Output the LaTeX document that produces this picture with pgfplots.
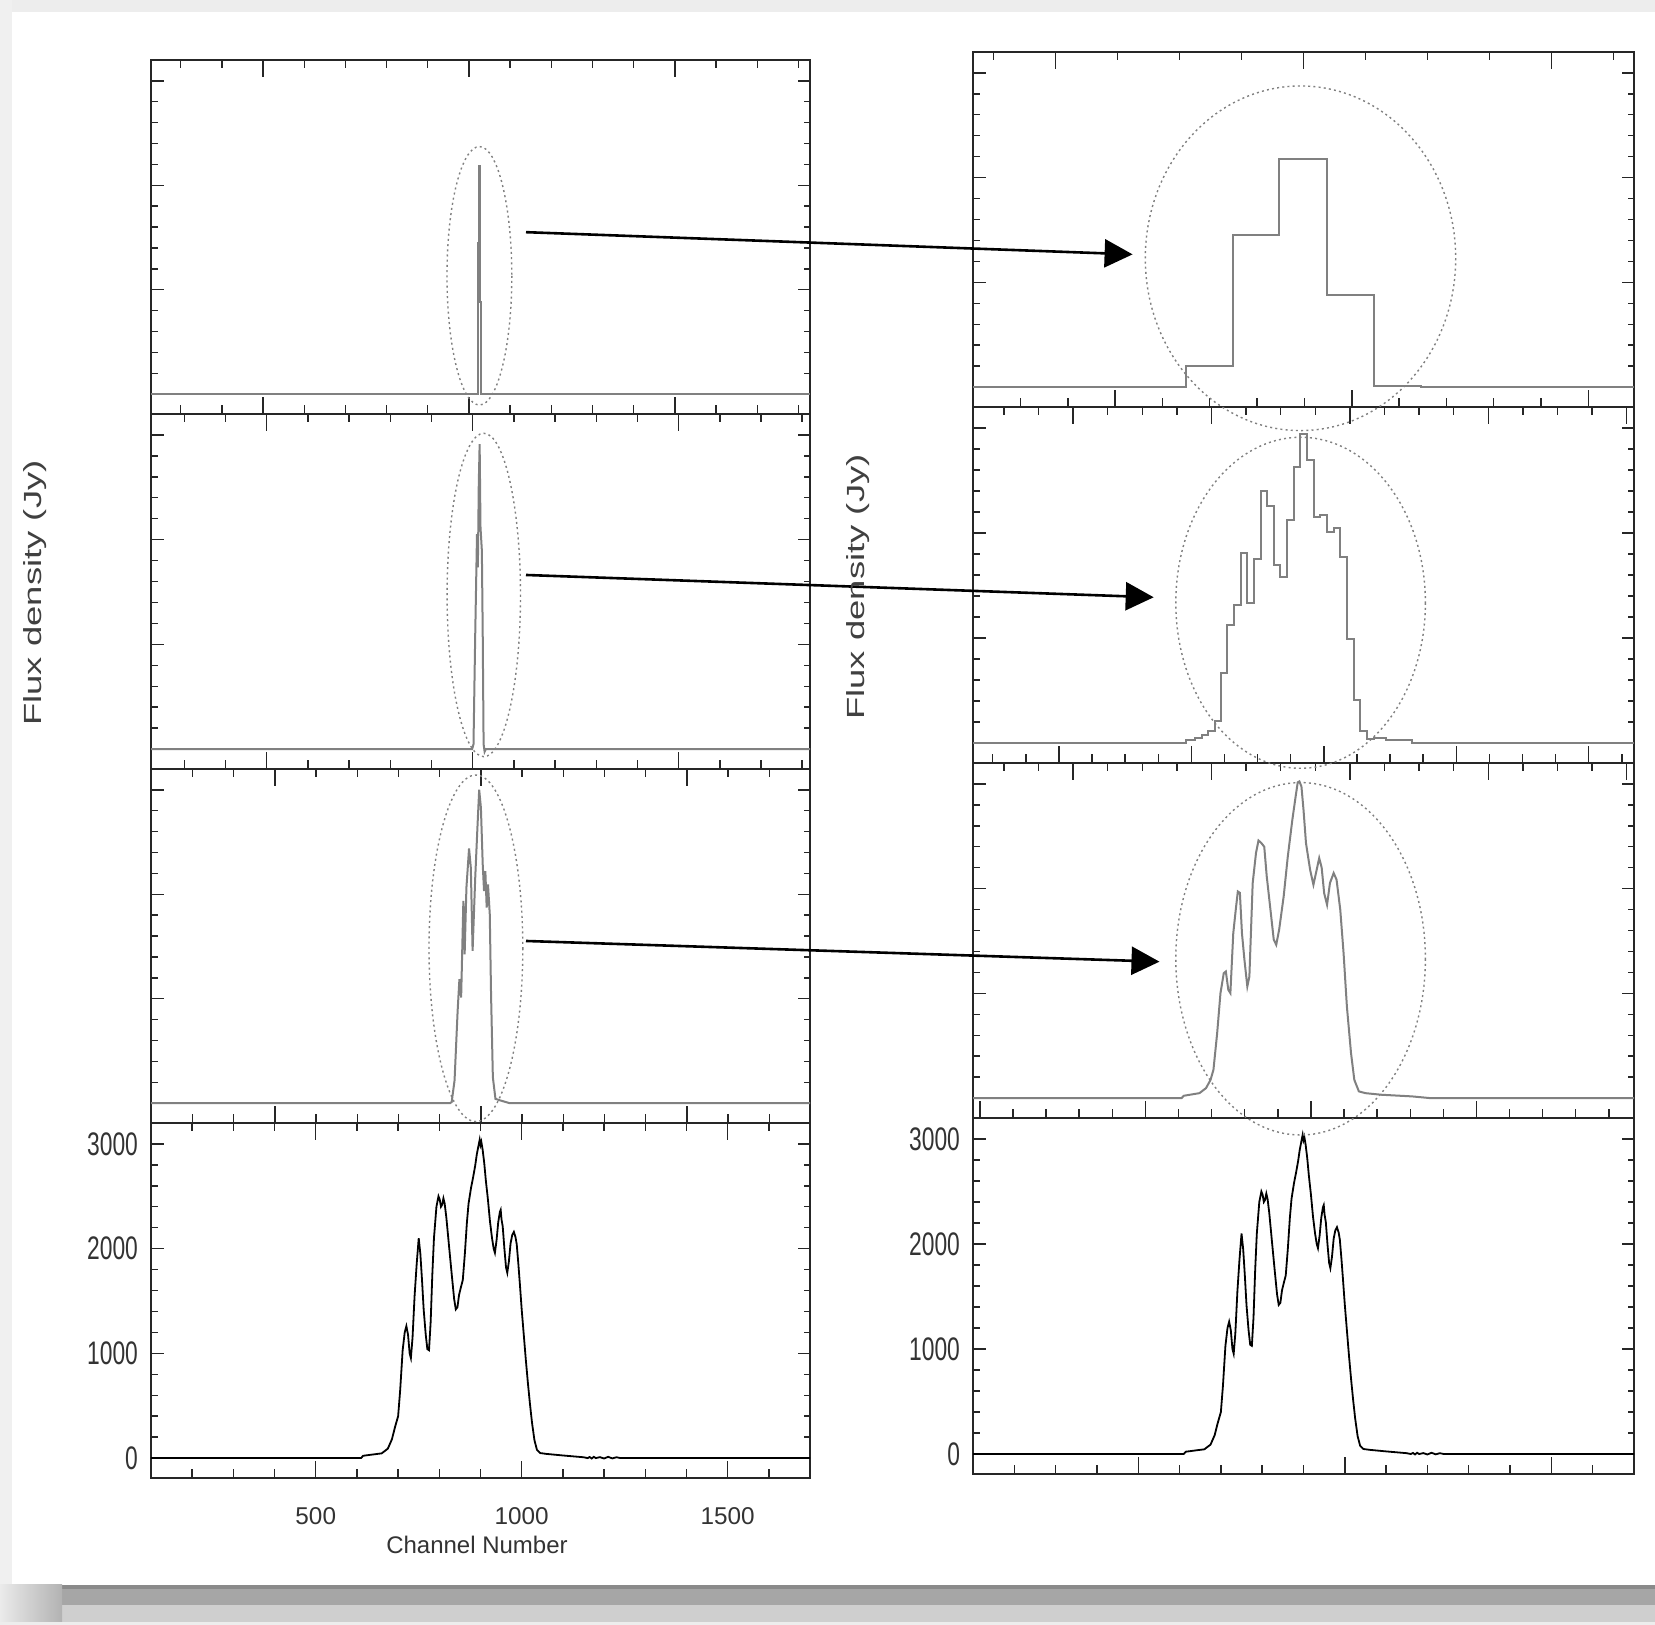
\documentclass[border=0pt]{standalone}
\usepackage{pgfplots}
\pgfplotsset{compat=1.18}
\usepackage{pgfplotstable}
\usepackage{fontspec}
\setmainfont{Liberation Sans}
\newfontfamily\ylabfont[FakeStretch=0.70]{Liberation Sans}
\usetikzlibrary{arrows.meta}

% full-resolution spectrum (channel, Jy)
\pgfplotstableread{
ch v
100 0
610 0
615 22
640 35
660 45
675 90
685 180
692 290
700 400
705 650
711 1030
716 1200
720 1260
724 1180
728 1000
731 955
735 1150
740 1550
745 1850
750 2100
754 1950
758 1700
762 1420
767 1180
771 1040
775 1030
779 1300
783 1750
787 2100
793 2400
798 2500
801 2470
804 2400
807 2420
810 2480
813 2430
817 2300
823 2050
830 1760
836 1520
840 1420
844 1440
848 1560
853 1640
857 1700
862 1950
867 2250
871 2430
877 2580
882 2680
887 2790
891 2900
895 2980
898 3040
900 2990
902 3020
905 2950
909 2820
913 2650
918 2470
923 2260
928 2100
932 2000
935 1960
939 2080
943 2250
947 2350
949 2370
951 2280
954 2210
958 2000
962 1820
965 1770
969 1880
973 2050
977 2130
981 2160
985 2110
988 2040
992 1850
996 1640
1000 1420
1005 1180
1010 940
1015 720
1020 520
1025 340
1031 170
1037 80
1045 48
1060 40
1100 25
1150 8
1160 0
1165 10
1170 -4
1175 12
1180 0
1190 9
1200 -4
1210 12
1220 -3
1230 8
1240 0
1700 0
}\specfull

% smoothed spectrum (right, third panel)
\pgfplotstableread{
ch v
100 0
605 0
610 22
648 47
664 95
675 174
682 270
691 620
699 1002
707 1193
712 1209
718 1034
723 1002
730 1575
736 1798
741 1973
746 1960
751 1575
757 1321
764 1066
769 1161
777 2053
785 2340
791 2460
798 2435
805 2400
811 2117
820 1798
828 1512
834 1464
841 1607
852 1926
862 2308
873 2658
881 2881
886 3015
890 3024
895 2976
900 2753
906 2435
916 2180
924 2037
931 2164
938 2292
944 2200
950 1957
957 1846
964 2053
973 2149
980 2085
989 1798
997 1384
1005 875
1015 430
1023 174
1034 64
1050 47
1088 32
1163 16
1206 0
1700 0
}\specsmooth

% binned spectrum (right, second panel), left bin edges
\pgfplotstableread{
ch v
100 0
615.7 32
637.2 48
653.3 79
669.4 111
685.5 206
699.4 668
715.5 1120
731.6 1311
747.7 1808
763.8 1337
779.9 1751
796.0 2403
812.1 2260
828.2 1697
844.3 1585
860.4 2123
876.5 2626
892.6 2945
908.7 2696
924.8 2149
940.9 2174
957.0 2005
973.1 2047
989.1 1773
1005.2 993
1021.3 414
1037.4 117
1053.5 38
1069.6 48
1098.6 25
1163 0
1700 0
}\specbinned

\pgfplotsset{
  panel/.style={
    scale only axis, anchor=south west,
    xmin=100, xmax=1700, ymin=-190, ymax=3200,
    ytick={0,1000,2000,3000},
    minor ytick={200,400,600,800,1200,1400,1600,1800,2200,2400,2600,2800},
    xticklabels={}, yticklabels={},
    ytick pos=both,
    tick align=inside,
    major tick length=7pt, minor tick length=3.5pt,
    axis line style={line width=1pt, black!85},
    tick style={line width=0.7pt, black!85},
    xtick style={/pgfplots/major tick length=8.5pt, /pgfplots/minor tick length=4.25pt},
    ytick style={/pgfplots/major tick length=6.25pt, /pgfplots/minor tick length=3.25pt},
  },
  topticks/.style={
    scale only axis, anchor=south west,
    xmin=100, xmax=1700, ymin=-190, ymax=3200,
    xtick pos=right, tick align=inside,
    ymajorticks=false, yminorticks=false,
    xticklabels={},
    axis line style={draw=none},
    tick style={line width=0.7pt, black!85},
    xtick style={/pgfplots/major tick length=8.5pt, /pgfplots/minor tick length=4.25pt},
  },
  grayline/.style={black!50, line width=1pt, no marks},
  blackline/.style={black, line width=0.9pt, no marks},
}

\begin{document}
\begin{tikzpicture}
\path[use as bounding box] (0,0) rectangle (827.5pt,812.5pt);

% ---- background (image pixel coordinates) ----
\begin{scope}[x=0.5pt,y=-0.5pt,shift={(0pt,812.5pt)}]
  \fill[white] (0,0) rectangle (1655,1625);
  \fill[black!7] (0,0) rectangle (1655,12);
  \fill[black!6] (0,0) rectangle (12,1585);
  \fill[black!46] (0,1585) rectangle (1655,1589);
  \fill[black!35] (0,1589) rectangle (1655,1605);
  \fill[black!19] (0,1605) rectangle (1655,1622);
  \fill[black!7] (0,1622) rectangle (1655,1625);
  \shade[left color=black!8, right color=black!30] (0,1585) rectangle (62,1622);
\end{scope}

% ================= LEFT COLUMN =================
\begin{axis}[panel, at={(75.5pt,605.5pt)}, width=329.5pt, height=177pt,
  xtick pos=both,
  xtick={372,872,1372},
  minor xtick={172,272,472,572,672,772,972,1072,1172,1272,1472,1572,1672}]
  \addplot[grayline, const plot] coordinates {(100,0) (892.5,0) (893.2,198) (894.5,1449) (896.5,2181) (898.5,883) (900.2,0) (1700,0)};
\end{axis}

\begin{axis}[panel, at={(75.5pt,428pt)}, width=329.5pt, height=177.5pt,
  xtick pos=both,
  xtick={381,881,1381},
  minor xtick={181,281,481,581,681,781,981,1081,1181,1281,1481,1581,1681}]
  \addplot[grayline] coordinates {(100,0) (879.7,0) (883,47) (887.2,1098) (891.5,2053) (893.6,1735) (895.8,2531) (897.9,2913) (900,2117) (903.3,1894) (905.4,1098) (907.5,47) (910,-25) (913,0) (1700,0)};
\end{axis}

\begin{axis}[panel, at={(75.5pt,251pt)}, width=329.5pt, height=177pt,
  xtick pos=both,
  xtick={401,901,1401},
  minor xtick={201,301,501,601,701,801,1001,1101,1201,1301,1501,1601}]
  \addplot[grayline] coordinates {(100,0) (826,0) (830,10) (837,217) (844.5,885) (848.8,1188) (853,1012) (858.4,1936) (861.5,1426) (865.8,2063) (872.2,2439) (876.5,2254) (880.8,1458) (887.2,2159) (892.5,2636) (896.8,3002) (901,2827) (905.4,2286) (908.6,2031) (911.8,2222) (915,1872) (918.2,2095) (922.5,1808) (925.6,1044) (930,248) (936.3,41) (949,25) (970.5,0) (1700,0)};
\end{axis}

\begin{axis}[panel, at={(75.5pt,73.5pt)}, width=329.5pt, height=177.5pt,
  xtick pos=both, xticklabel pos=left,
  xtick={500,1000,1500},
  minor xtick={200,300,400,600,700,800,900,1100,1200,1300,1400,1600},
  xticklabels={500,1000,1500},
  yticklabels={0,1000,2000,3000},
  ytick pos=both, yticklabel pos=left,
  xticklabel style={font=\fontsize{12.15}{14}\selectfont, text=black!80, yshift=-11pt},
  yticklabel style={font=\ylabfont\fontsize{16.3}{18}\selectfont, text=black!80, xshift=-3pt}]
  \addplot[blackline] table[x=ch,y=v] {\specfull};
\end{axis}

% ================= RIGHT COLUMN =================
\begin{axis}[panel, at={(486.5pt,609pt)}, width=330.5pt, height=177.5pt,
  xtick pos=left,
  xtick={444,1017,1590},
  minor xtick={215,329.5,558.5,673,787.5,902,1131.5,1246,1360.5,1475}]
  \addplot[grayline, const plot] coordinates {(100,0) (615.7,198) (728.4,1449) (841.1,2181) (957,883) (1071.8,15) (1184,0) (1700,0)};
\end{axis}
\begin{axis}[topticks, at={(486.5pt,609pt)}, width=330.5pt, height=177.5pt,
  xtick={300,900,1500},
  minor xtick={150,450,600,750,1050,1200,1350,1650}]
\end{axis}

\begin{axis}[panel, at={(486.5pt,431pt)}, width=330.5pt, height=178pt,
  xtick pos=left,
  xtick={308,628.6,949.2,1269.8,1590.4},
  minor xtick={147.7,227.9,388.2,468.3,548.5,708.8,788.9,869.1,1029.4,1109.5,1189.7,1350,1430.1,1510.3,1670.6}]
  \addplot[grayline, const plot] table[x=ch,y=v] {\specbinned};
\end{axis}
\begin{axis}[topticks, at={(486.5pt,431pt)}, width=330.5pt, height=178pt,
  xtick={342.5,677.5,1012.5,1347.5,1682.5},
  minor xtick={175,258.75,426.25,510,593.75,761.25,845,928.75,1096.25,1180,1263.75,1431.25,1515,1598.75}]
\end{axis}

\begin{axis}[panel, at={(486.5pt,253.5pt)}, width=330.5pt, height=177.5pt,
  xtick pos=left,
  xtick={116.5,517.2,917.9,1318.6},
  minor xtick={196.6,276.8,356.9,437.1,597.3,677.5,757.6,837.8,998,1078.2,1158.3,1238.5,1398.7,1478.9,1559,1639.2}]
  \addplot[grayline] table[x=ch,y=v] {\specsmooth};
\end{axis}
\begin{axis}[topticks, at={(486.5pt,253.5pt)}, width=330.5pt, height=177.5pt,
  xtick={342.5,677.5,1012.5,1347.5,1682.5},
  minor xtick={175,258.75,426.25,510,593.75,761.25,845,928.75,1096.25,1180,1263.75,1431.25,1515,1598.75}]
\end{axis}

\begin{axis}[panel, at={(486.5pt,75.5pt)}, width=330.5pt, height=178pt,
  xtick pos=left,
  xtick={500,1000,1500},
  minor xtick={200,300,400,600,700,800,900,1100,1200,1300,1400,1600},
  yticklabels={0,1000,2000,3000},
  yticklabel pos=left,
  yticklabel style={font=\ylabfont\fontsize{16.3}{18}\selectfont, text=black!80, xshift=-3pt}]
  \addplot[blackline] table[x=ch,y=v] {\specfull};
\end{axis}

% ---- annotations (image pixel coordinates) ----
\begin{scope}[x=0.5pt,y=-0.5pt,shift={(0pt,812.5pt)}]
  \begin{scope}[black!50, line width=0.7pt, dash pattern=on 1pt off 1.6pt]
    \draw (479.4,275.8) ellipse [x radius=32.4, y radius=129.2];
    \draw (483.8,595) ellipse [x radius=36.7, y radius=161.7];
    \draw (475.9,948.3) ellipse [x radius=46.9, y radius=173.3];
    \draw (1300.5,258.3) ellipse [x radius=155.2, y radius=172.3];
    \draw (1300.6,602.8) ellipse [x radius=124.8, y radius=165.5];
    \draw (1300.6,958.8) ellipse [x radius=124.8, y radius=176.2];
  \end{scope}
  \begin{scope}[black, line width=1.3pt, -{Triangle[length=14pt,width=14pt]}]
    \draw (526,232.2) -- (1132.6,254.4);
    \draw (526,575) -- (1153.7,597.3);
    \draw (526,941) -- (1159.5,961.7);
  \end{scope}
  \node[anchor=base, text=black!80, font=\fontsize{12}{14}\selectfont] at (477,1554) {Channel Number};
  \node[rotate=90, anchor=base, text=black!75] at (41,593)
    {\scalebox{1.47}[1]{\fontsize{12.4}{14}\selectfont Flux density (Jy)}};
  \node[rotate=90, anchor=base, text=black!75] at (864,587)
    {\scalebox{1.47}[1]{\fontsize{12.4}{14}\selectfont Flux density (Jy)}};
\end{scope}
\end{tikzpicture}
\end{document}
